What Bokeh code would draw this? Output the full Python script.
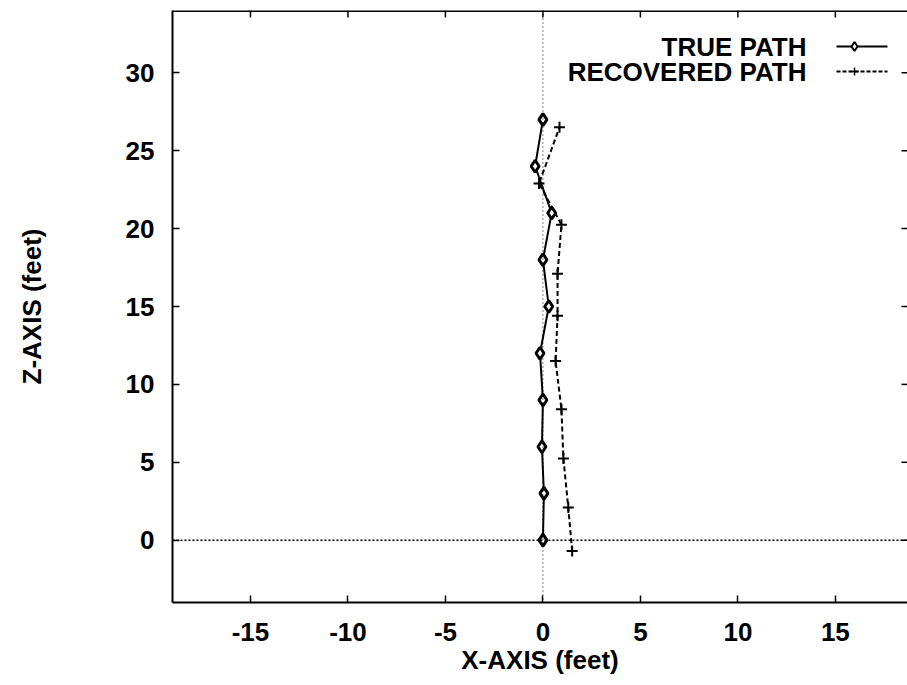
from bokeh.plotting import figure
from bokeh.models import Range1d, FixedTicker, LinearAxis, Span, ColumnDataSource
from bokeh.core.properties import value
from bokeh.embed import file_html
from bokeh.resources import INLINE

# ---- data ----
true_z = [0, 3, 6, 9, 12, 15, 18, 21, 24, 27]
true_x = [0.0, 0.05, -0.05, 0.0, -0.15, 0.3, 0.0, 0.45, -0.4, 0.0]
rec_z = [-0.7, 2.1, 5.25, 8.4, 11.5, 14.4, 17.1, 20.25, 22.9, 26.5]
rec_x = [1.5, 1.3, 1.05, 0.95, 0.65, 0.75, 0.75, 0.95, -0.2, 0.85]
x_ticks = [-15, -10, -5, 0, 5, 10, 15]
y_ticks = [0, 5, 10, 15, 20, 25, 30]
series_names = ["TRUE PATH", "RECOVERED PATH"]

# ---- layout ----
FL, FT, FW, FH = 172, 10, 735, 592
X0, X1 = -19.0, 18.7
Y0, Y1 = -4.0, 34.0
FONT = "Liberation Sans"
FS = "26px"


def px_to_x(px):
    return X0 + (px - FL) * (X1 - X0) / FW


def py_to_y(py):
    return Y1 - (py - FT) * (Y1 - Y0) / FH


p = figure(frame_width=FW, frame_height=FH, output_backend="svg", toolbar_location=None,
           x_range=Range1d(X0, X1), y_range=Range1d(Y0, Y1),
           min_border_left=FL, min_border_top=FT, min_border_bottom=685 - FT - FH,
           min_border_right=0, x_axis_location=None, y_axis_location=None)
p.outline_line_color = None
p.xgrid.visible = False
p.ygrid.visible = False
p.background_fill_color = "white"
p.border_fill_color = "white"


def style_axis(ax, ticks):
    ax.axis_line_width = 2
    ax.axis_line_color = "black"
    ax.major_tick_in = 7
    ax.major_tick_out = 0
    ax.major_tick_line_width = 1.5
    ax.minor_tick_in = 0
    ax.minor_tick_out = 0
    ax.major_label_overrides = {t: str(t) for t in ticks}
    ax.major_label_text_font = FONT
    ax.major_label_text_font_style = "bold"
    ax.major_label_text_font_size = FS
    ax.major_label_text_color = "black"
    ax.axis_label_text_font = FONT
    ax.axis_label_text_font_style = "bold"
    ax.axis_label_text_font_size = FS
    ax.axis_label_text_color = "black"


xb = LinearAxis(ticker=FixedTicker(ticks=x_ticks), axis_label="X-AXIS (feet)")
style_axis(xb, x_ticks)
xb.major_label_standoff = 20
xb.axis_label_standoff = 1
p.add_layout(xb, "below")

yl = LinearAxis(ticker=FixedTicker(ticks=y_ticks), axis_label="Z-AXIS (feet)")
style_axis(yl, y_ticks)
yl.major_label_standoff = 18
yl.axis_label_standoff = 76
p.add_layout(yl, "left")

# top border with inward ticks, and the stubs of the right-hand ticks
p.add_layout(Span(location=Y1, dimension="width", line_color="black", line_width=3))
p.segment(x0=x_ticks, x1=x_ticks, y0=[Y1] * len(x_ticks),
          y1=[py_to_y(FT + 7)] * len(x_ticks), line_color="black", line_width=1.5)
p.segment(x0=[px_to_x(901)] * len(y_ticks), x1=[X1] * len(y_ticks),
          y0=y_ticks, y1=y_ticks, line_color="black", line_width=1.5)

# zero lines
p.add_layout(Span(location=0, dimension="height", line_color="black",
                  line_width=1, line_dash="1 3"))
p.add_layout(Span(location=0, dimension="width", line_color="black",
                  line_width=1.5, line_dash="2 2"))

src_true = ColumnDataSource(dict(x=true_x, z=true_z))
src_rec = ColumnDataSource(dict(x=rec_x, z=rec_z))

p.line("x", "z", source=src_true, line_color="black", line_width=2)
p.scatter("x", "z", source=src_true, marker="diamond", size=12,
          fill_color="white", line_color="black", line_width=3)
p.line("x", "z", source=src_rec, line_color="black", line_width=2, line_dash="5 3")
p.scatter("x", "z", source=src_rec, marker="cross", size=11,
          line_color="black", line_width=2)

# legend: text right-aligned, samples to the right of the text
leg_y = [py_to_y(46), py_to_y(71)]
leg_src = ColumnDataSource(dict(x=[px_to_x(806)] * 2, y=leg_y, t=series_names))
p.text("x", "y", text="t", source=leg_src, text_align="right",
       text_baseline="middle", text_font=value(FONT), text_font_style="bold",
       text_font_size=FS, text_color="black")
sx0, sx1, smk = px_to_x(836), px_to_x(887), px_to_x(854)
p.line([sx0, sx1], [leg_y[0]] * 2, line_color="black", line_width=2)
p.scatter([smk], [leg_y[0]], marker="diamond", size=9, fill_color="white",
          line_color="black", line_width=2)
p.line([sx0, sx1], [leg_y[1]] * 2, line_color="black", line_width=2, line_dash="4 2")
p.scatter([smk], [leg_y[1]], marker="cross", size=8, line_color="black", line_width=1.5)

open("out.html", "w").write(file_html(p, INLINE))
